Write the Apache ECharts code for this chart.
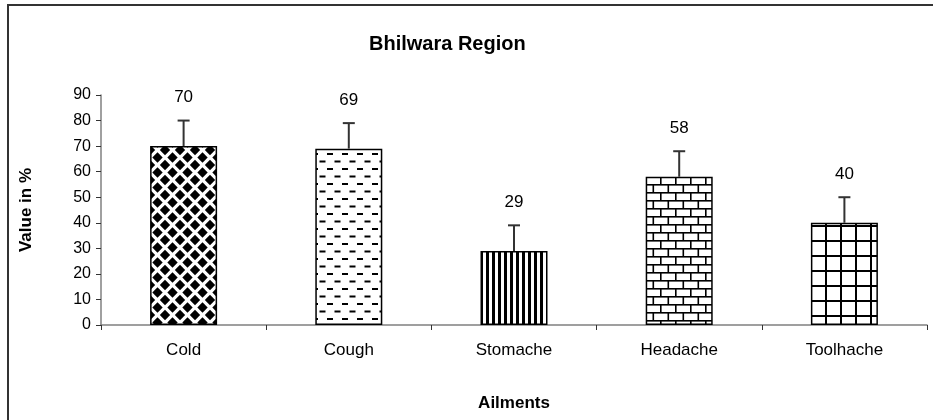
<!DOCTYPE html>
<html>
<head>
<meta charset="utf-8">
<script src="https://cdn.jsdelivr.net/npm/echarts@6/dist/echarts.min.js"></script>
<style>
  html, body { margin: 0; padding: 0; background: #fff; }
  #chart { width: 933px; height: 420px; }
</style>
</head>
<body>
<div id="chart"></div>
<script>
const categories = ['Cold', 'Cough', 'Stomache', 'Headache', 'Toolhache'];
const values = [70, 69, 29, 58, 40];
const errorPlus = [10, 10, 10, 10, 10];
const yTicks = { min: 0, max: 90, interval: 10 };

// little canvas tiles for the hatch fills
function tile(w, h, draw) {
  const c = document.createElement('canvas');
  c.width = w; c.height = h;
  const ctx = c.getContext('2d');
  ctx.fillStyle = '#fff';
  ctx.fillRect(0, 0, w, h);
  ctx.fillStyle = '#000';
  ctx.strokeStyle = '#000';
  draw(ctx, w, h);
  return { image: c, repeat: 'repeat' };
}

function diamond(ctx, cx, cy, r) {
  ctx.beginPath();
  ctx.moveTo(cx, cy - r);
  ctx.lineTo(cx + r, cy);
  ctx.lineTo(cx, cy + r);
  ctx.lineTo(cx - r, cy);
  ctx.closePath();
  ctx.fill();
}

const patterns = [
  // diamonds
  tile(15, 15, (ctx) => {
    diamond(ctx, 7.5, 7.5, 5.2);
    [[0, 0], [15, 0], [0, 15], [15, 15]].forEach(p => diamond(ctx, p[0], p[1], 5.2));
  }),
  // staggered dashes
  tile(15, 15, (ctx) => {
    ctx.fillRect(0, 3, 3, 2);
    ctx.fillRect(12, 3, 3, 2);
    ctx.fillRect(4.5, 10.5, 6, 2);
  }),
  // vertical stripes
  tile(6, 6, (ctx) => {
    ctx.fillRect(0, 0, 3, 6);
  }),
  // bricks
  tile(15, 16, (ctx) => {
    ctx.fillRect(0, 0, 15, 1.6);
    ctx.fillRect(0, 8, 15, 1.6);
    ctx.fillRect(0, 0, 1.6, 8);
    ctx.fillRect(7.5, 8, 1.6, 8);
  }),
  // grid
  tile(15, 15.5, (ctx) => {
    ctx.fillRect(0, 0, 15, 2);
    ctx.fillRect(0, 0, 2, 15.5);
  })
];

const chart = echarts.init(document.getElementById('chart'));

const barData = values.map((v, i) => ({
  value: v,
  itemStyle: { color: patterns[i] }
}));

const errData = values.map((v, i) => [i, v, v + errorPlus[i]]);

const option = {
  backgroundColor: '#fff',
  animation: false,
  textStyle: { fontFamily: 'Liberation Sans, Arial, sans-serif' },
  title: {
    text: 'Bhilwara Region',
    left: 364,
    top: 29,
    textStyle: { fontSize: 20, fontWeight: 'bold', color: '#000', fontFamily: 'Liberation Sans' }
  },
  graphic: [{
    type: 'rect',
    shape: { x: 8, y: 5, width: 960, height: 460 },
    style: { fill: 'none', stroke: '#333', lineWidth: 2 },
    silent: true
  }],
  grid: { left: 101, right: 6, top: 95, bottom: 95 },
  xAxis: {
    type: 'category',
    data: categories,
    name: 'Ailments',
    nameLocation: 'middle',
    nameGap: 70,
    nameTextStyle: { fontSize: 17, fontWeight: 'bold', color: '#000' },
    axisLine: { lineStyle: { color: '#808080', width: 1.5 } },
    axisTick: { show: true, length: 5, lineStyle: { color: '#333' } },
    axisLabel: { fontSize: 17, color: '#000', margin: 17 }
  },
  yAxis: {
    type: 'value',
    min: yTicks.min,
    max: yTicks.max,
    interval: yTicks.interval,
    name: 'Value in %',
    nameLocation: 'middle',
    nameGap: 66,
    nameTextStyle: { fontSize: 17, fontWeight: 'bold', color: '#000' },
    axisLine: { show: true, lineStyle: { color: '#808080', width: 1.5 } },
    axisTick: { show: true, length: 5, lineStyle: { color: '#333' } },
    axisLabel: { fontSize: 16, color: '#000', margin: 10 },
    splitLine: { show: false }
  },
  series: [
    {
      type: 'bar',
      data: barData,
      barWidth: 67,
      itemStyle: { borderColor: '#000', borderWidth: 1.5 }
    },
    {
      type: 'custom',
      data: errData,
      z: 5,
      renderItem: (params, api) => {
        const top = api.coord([api.value(0), api.value(1)]);
        const err = api.coord([api.value(0), api.value(2)]);
        const style = { stroke: '#333', lineWidth: 2 };
        return {
          type: 'group',
          children: [
            { type: 'line', shape: { x1: top[0], y1: top[1], x2: err[0], y2: err[1] }, style },
            { type: 'line', shape: { x1: err[0] - 6, y1: err[1], x2: err[0] + 6, y2: err[1] }, style },
            {
              type: 'text',
              x: err[0], y: err[1] - 23,
              style: {
                text: String(api.value(1)),
                fontSize: 17,
                fontFamily: 'Liberation Sans',
                fill: '#000',
                align: 'center',
                verticalAlign: 'middle'
              }
            }
          ]
        };
      }
    }
  ]
};

chart.setOption(option);
</script>
</body>
</html>
